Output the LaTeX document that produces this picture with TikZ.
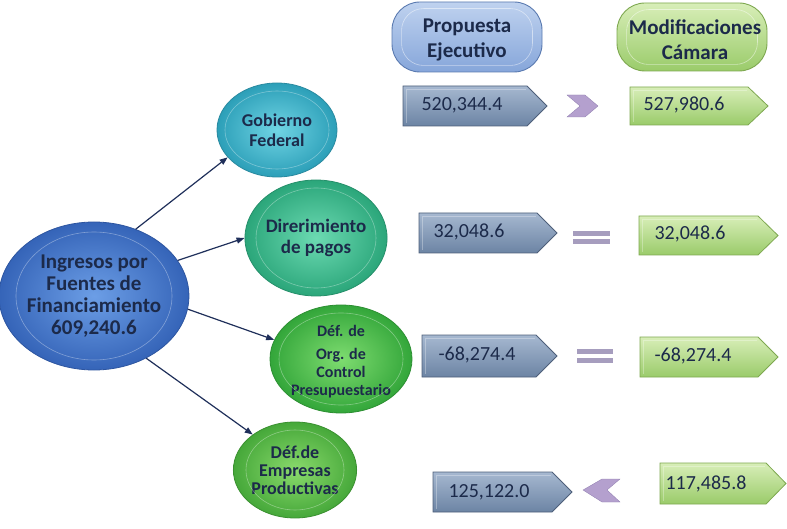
\documentclass[tikz,border=0pt]{standalone}
\usepackage{fontspec}
\setmainfont{Carlito}
\usetikzlibrary{shapes.geometric,arrows.meta}
\definecolor{txt}{HTML}{1C2A4A}
\definecolor{arr}{HTML}{1F2F5A}
\definecolor{bluetop}{HTML}{A6B8D0}
\definecolor{bluebot}{HTML}{6C84A4}
\definecolor{blueedge}{HTML}{4E5F7A}
\definecolor{greentop}{HTML}{D8EEB8}
\definecolor{greenbot}{HTML}{9ACB6A}
\definecolor{greenedge}{HTML}{7EA850}
\definecolor{lav}{HTML}{B4A0CE}
\definecolor{lavdark}{HTML}{8E7CAE}
\definecolor{eqc}{HTML}{A69DBE}
\definecolor{petop}{HTML}{BFD2EF}
\definecolor{pebot}{HTML}{86A6DA}
\definecolor{peedge}{HTML}{5A7AB0}
\definecolor{mainin}{HTML}{6C9EE6}\definecolor{mainout}{HTML}{3564B8}\definecolor{mainedge}{HTML}{2D55A0}
\definecolor{gobin}{HTML}{70D4E4}\definecolor{gobout}{HTML}{2C9FB8}\definecolor{gobedge}{HTML}{2A8AA0}
\definecolor{dirin}{HTML}{6CDAB2}\definecolor{dirout}{HTML}{2BA67A}\definecolor{diredge}{HTML}{258F6A}
\definecolor{orgin}{HTML}{7EDC70}\definecolor{orgout}{HTML}{33A63A}\definecolor{orgedge}{HTML}{2C8F32}
\definecolor{empin}{HTML}{8ADA6C}\definecolor{empout}{HTML}{46A83A}\definecolor{empedge}{HTML}{3A9030}
\tikzset{
  circnode/.style={ellipse, draw=#1edge, inner color=#1in, outer color=#1out, line width=0.8pt,
     inner sep=0pt, align=center, text=txt},
  bluebox/.style={draw=blueedge, top color=bluetop, bottom color=bluebot, line width=0.8pt},
  greenbox/.style={draw=greenedge, top color=greentop, bottom color=greenbot, line width=0.8pt},
  valtext/.style={font=\fontsize{20}{22}\selectfont, text=txt, inner sep=0pt},
  pill/.style={rounded corners=28pt, line width=0.9pt, inner sep=0pt},
  pilltext/.style={align=center, inner sep=0pt, font=\bfseries\fontsize{21}{25}\selectfont, text=txt},
  link/.style={draw=arr, line width=1.2pt, -{Triangle[length=8pt,width=6pt]}},
  ring/.style={draw=white, opacity=0.35, line width=0.6pt},
}
% #1 style, #2 name, #3 x1, #4 y1, #5 x2, #6 y2, #7 tip length
\newcommand{\valshape}[7]{%
  \path[#1] (#3,#4) coordinate (#2-nw) -- ({#5-#7},#4) -- (#5,{(#4+#6)/2}) coordinate (#2-tip)
     -- ({#5-#7},#6) -- (#3,#6) coordinate (#2-sw) -- cycle;
  \draw[white, opacity=0.3, line width=0.8pt] ({#3+3},{#6-3}) -- ({#3+3},{#4+3}) -- ({#5-#7-1},{#4+3});
}
\begin{document}
\begin{tikzpicture}[x=1pt,y=-1pt]
\useasboundingbox (0,0) rectangle (787,529);
% header pills
\node[pill, draw=peedge, top color=petop, bottom color=pebot,
      minimum width=150, minimum height=70] (pe) at (467,37) {};
\draw[ring, opacity=0.5, rounded corners=22pt] ([shift={(10,-7)}]pe.south west) rectangle ([shift={(-10,7)}]pe.north east);
\node[pilltext] (pet) at (467,40) {Propuesta\\Ejecutivo};
\node[pill, draw=greenedge, top color=greentop, bottom color=greenbot,
      minimum width=150, minimum height=68] (mc) at (692,37) {};
\draw[ring, opacity=0.5, rounded corners=22pt] ([shift={(10,-7)}]mc.south west) rectangle ([shift={(-10,7)}]mc.north east);
\node[pilltext] (mct) at (695,40) {Modificaciones\\Cámara};

% ellipses
\node[circnode=main, minimum width=178, minimum height=148, font=\bfseries\fontsize{21}{22}\selectfont] (main) at (94,296)
      {Ingresos por\\Fuentes de\\Financiamiento\\609,240.6};
\node[circnode=gob, minimum width=120, minimum height=94, font=\bfseries\fontsize{18}{20}\selectfont] (gob) at (277,130) {Gobierno\\Federal};
\node[circnode=dir, minimum width=136, minimum height=116, font=\bfseries\fontsize{19}{21}\selectfont] (dir) at (316,238) {Direrimiento\\de pagos};
\node[circnode=org, minimum width=142, minimum height=108] (org) at (341,359) {};
\node[align=center, inner sep=0pt, text=txt, font=\bfseries\fontsize{16}{18}\selectfont] (orgt) at (341,362)
      {Déf. de\\[5pt]Org. de\\Control\\Presupuestario};
\node[circnode=emp, minimum width=114, minimum height=96, font=\bfseries\fontsize{18}{18}\selectfont] (emp) at (295,470)
      {Déf.de\\Empresas\\Productivas};
\foreach \n/\a/\b in {main/78/64, gob/52/39, dir/60/50, org/62/46, emp/49/40}{
  \draw[ring] (\n.center) ellipse ({\a} and {\b});
}

% connectors
\draw[link] (main.58) -- (gob.209);
\draw[link] (main.23) -- (dir.180);
\draw[link] (main.-8) -- (org.164);
\draw[link] (main.-50) -- (emp.140);

% row 1
\valshape{bluebox}{b1}{403}{86}{547}{126}{20}
\node[valtext] (b1t) at (462,105) {520,344.4};
\fill[lav, draw=lavdark, line width=0.3pt] (567,95) -- (585,95) -- (598,106) -- (585,117) -- (567,117) -- (580,106) -- cycle;
\valshape{greenbox}{g1}{630}{87}{768}{125}{20}
\node[valtext] (g1t) at (684,105) {527,980.6};

% row 2
\valshape{bluebox}{b2}{419}{213}{557}{253}{20}
\node[valtext] (b2t) at (469,232) {32,048.6};
\fill[eqc] (573,231) rectangle (610,236);
\fill[eqc] (573,239) rectangle (610,244);
\valshape{greenbox}{g2}{639}{216}{778}{255}{20}
\node[valtext] (g2t) at (690,234) {32,048.6};

% row 3
\valshape{bluebox}{b3}{422}{335}{557}{377}{21}
\node[valtext] (b3t) at (477,355) {-68,274.4};
\fill[eqc] (577,349) rectangle (613,354);
\fill[eqc] (577,358) rectangle (613,363);
\valshape{greenbox}{g3}{640}{337}{778}{377}{20}
\node[valtext] (g3t) at (693,356) {-68,274.4};

% row 4
\valshape{bluebox}{b4}{433}{472}{572}{512}{20}
\node[valtext] (b4t) at (489,492) {125,122.0};
\fill[lav, draw=lavdark, line width=0.3pt] (620,479) -- (602,479) -- (583,490) -- (602,502) -- (620,502) -- (607,490) -- cycle;
\valshape{greenbox}{g4}{660}{463}{786}{504}{20}
\node[valtext] (g4t) at (706,484) {117,485.8};
\end{tikzpicture}
\end{document}
